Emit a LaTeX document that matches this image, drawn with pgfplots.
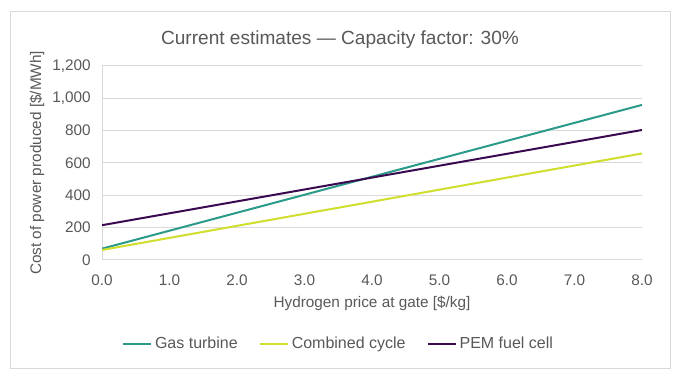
\documentclass[border=0pt]{standalone}
\usepackage{fontspec}
\setmainfont{Liberation Sans}
\usepackage{pgfplots}
\pgfplotsset{compat=1.18}
\definecolor{txt}{HTML}{595959}
\definecolor{gridc}{HTML}{D9D9D9}
\definecolor{gas}{HTML}{2A9A89}
\definecolor{comb}{HTML}{D0DE2E}
\definecolor{pem}{HTML}{3A0A50}
\begin{document}
\begin{tikzpicture}
\path[fill=white] (-76.5pt,-93pt) rectangle (433.5pt,195pt);
\draw[gridc, line width=0.75pt] (-68.25pt,-81.75pt) rectangle (426pt,186pt);
\begin{axis}[
  at={(0pt,0pt)}, anchor=south west,
  scale only axis, width=405pt, height=145.7pt,
  xmin=0, xmax=8, ymin=0, ymax=1200,
  xtick={0,1,...,8}, ytick={0,200,...,1200},
  axis x line=bottom, axis y line=left,
  axis line style={gridc, line width=0.75pt, -},
  major tick length=0pt,
  ymajorgrids, grid style={gridc, line width=0.75pt},
  font=\fontsize{11.5pt}{13pt}\selectfont,
  tick label style={txt},
  /pgf/number format/assume math mode=true,
  xticklabel style={/pgf/number format/.cd, fixed, fixed zerofill, precision=1, /tikz/.cd, yshift=-7.5pt},
  yticklabel style={/pgf/number format/.cd, 1000 sep={,}, /tikz/.cd, xshift=-5pt},
  xlabel={Hydrogen price at gate [\$/kg]},
  ylabel={Cost of power produced [\$/MWh]},
  every axis x label/.style={at={(axis description cs:0.5,0)}, yshift=-32.25pt, anchor=center, text=txt, font=\fontsize{11.5pt}{13pt}\selectfont},
  every axis y label/.style={at={(axis description cs:0,0.5)}, xshift=-48.75pt, rotate=90, anchor=center, text=txt, font=\fontsize{11.5pt}{13pt}\selectfont},
  legend columns=3,
  legend style={at={(axis description cs:0.5,0)}, xshift=-24.75pt, yshift=-63pt, anchor=center, draw=none, fill=none,
    font=\fontsize{12pt}{14pt}\selectfont, text=txt,
    /tikz/every even column/.append style={column sep=14pt}},
  legend image code/.code={\draw[#1, line width=1.5pt] (0pt,0pt) -- (21pt,0pt);},
]
\addplot[gas, line width=1.5pt] coordinates {(0,70) (8,958)};
\addlegendentry{Gas turbine}
\addplot[comb, line width=1.5pt] coordinates {(0,62) (8,658)};
\addlegendentry{Combined cycle}
\addplot[pem, line width=1.5pt] coordinates {(0,215) (8,803)};
\addlegendentry{PEM fuel cell}
\end{axis}
\node[txt, font=\fontsize{14.3pt}{16pt}\selectfont] at (178.5pt,165.5pt) {Current estimates — Capacity factor: 30\%};
\end{tikzpicture}
\end{document}
